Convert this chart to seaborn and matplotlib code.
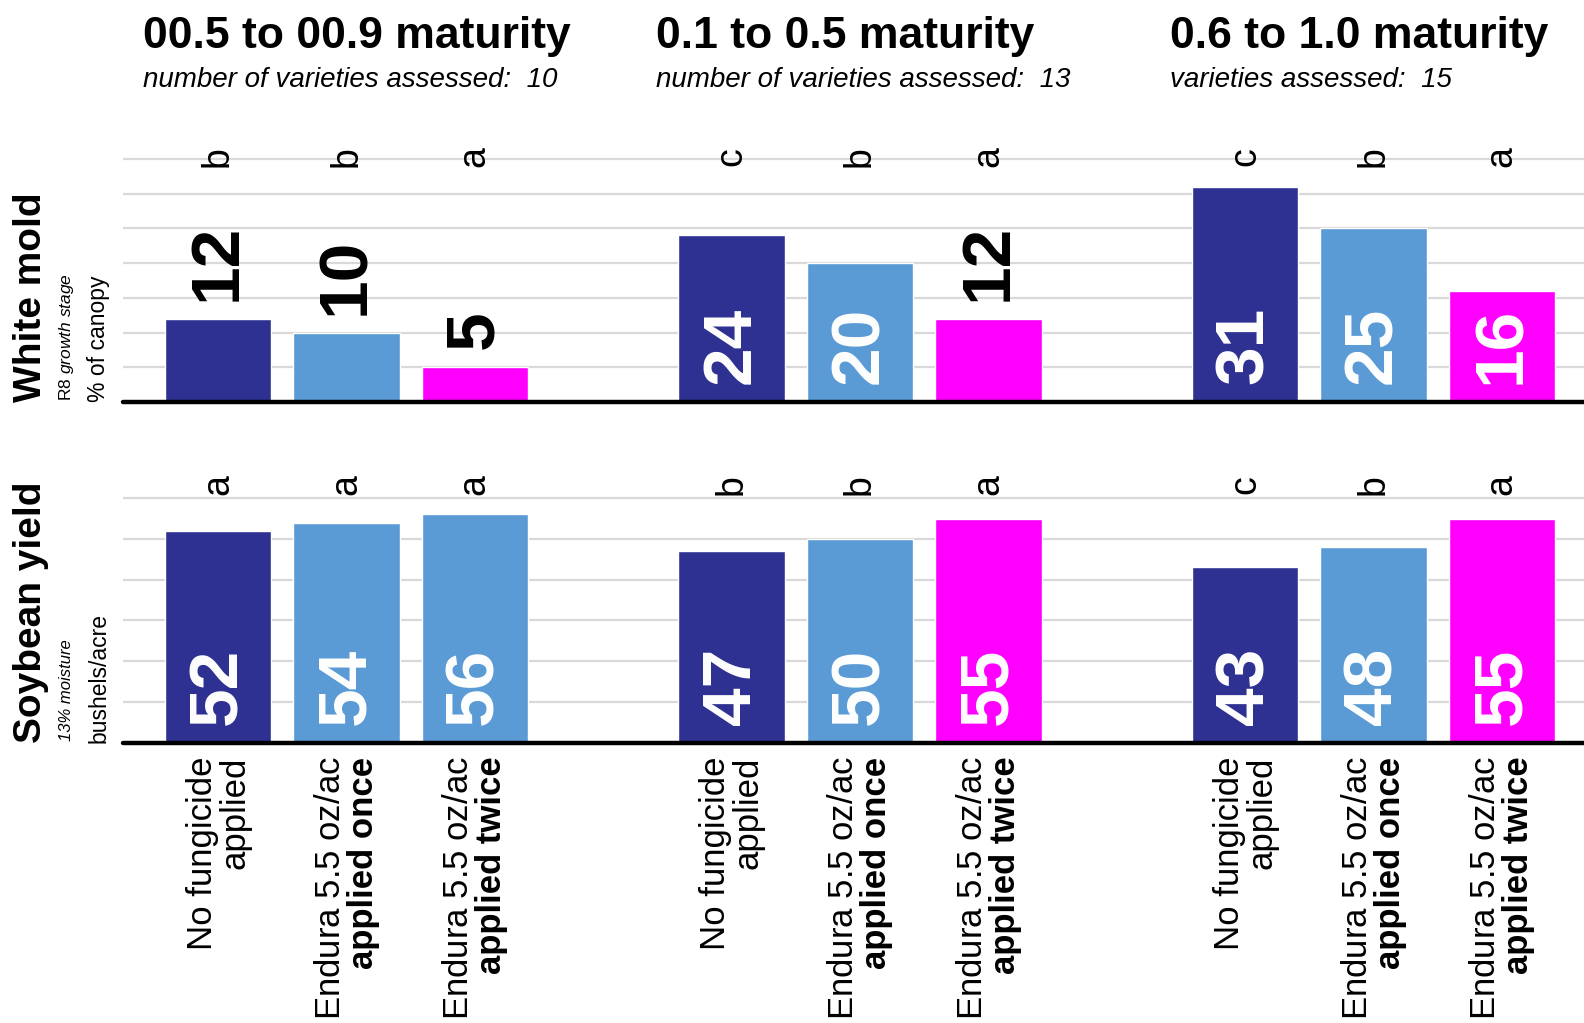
import pandas as pd
import matplotlib
matplotlib.use("Agg")
import matplotlib.pyplot as plt
import matplotlib.transforms as mtransforms
import seaborn as sns

# data
group_titles = ["00.5 to 00.9 maturity", "0.1 to 0.5 maturity", "0.6 to 1.0 maturity"]
group_subtitles = ["number of varieties assessed:  10",
                   "number of varieties assessed:  13",
                   "varieties assessed:  15"]
treat_line1 = ["No fungicide", r"Endura $\mathit{5.5}$ oz/ac", r"Endura $\mathit{5.5}$ oz/ac"]
treat_line2 = ["applied", "applied once", "applied twice"]
treat_bold2 = [False, True, True]

mold_values = [12, 10, 5, 24, 20, 12, 31, 25, 16]
mold_letters = ["b", "b", "a", "c", "b", "a", "c", "b", "a"]
mold_colors = ["navy", "blue", "pink", "navy", "blue", "pink", "navy", "blue", "pink"]

yield_values = [52, 54, 56, 47, 50, 55, 43, 48, 55]
yield_letters = ["a", "a", "a", "b", "b", "a", "c", "b", "a"]
yield_colors = ["navy", "blue", "blue", "navy", "blue", "pink", "navy", "blue", "pink"]

color_map = {"navy": "#2E3192", "blue": "#5B9BD5", "pink": "#FF00FF"}

# slots: 3 bars per group with one empty slot between groups
slots = ["0", "1", "2", "4", "5", "6", "8", "9", "10"]
order = [str(i) for i in range(11)]

sns.set_theme(style="white")
plt.rcParams["font.family"] = ["Liberation Sans", "DejaVu Sans"]
plt.rcParams["text.color"] = "black"
plt.rcParams["mathtext.fontset"] = "custom"
plt.rcParams["mathtext.rm"] = "Liberation Sans"
plt.rcParams["mathtext.it"] = "Liberation Sans:italic"
plt.rcParams["mathtext.bf"] = "Liberation Sans:bold"

fig = plt.figure(figsize=(15.84, 10.23), dpi=100)
ax_top = fig.add_axes([0.0777, 0.607, 0.9223, 0.258])
ax_bot = fig.add_axes([0.0777, 0.274, 0.9223, 0.255])

XLIM = (-0.74, 10.64)


def draw_row(ax, values, colors, letters, ymax, ticks, letter_y, inside_min):
    df = pd.DataFrame({"slot": slots, "value": values, "color": colors})
    pal = {s: color_map[c] for s, c in zip(slots, colors)}
    sns.barplot(data=df, x="slot", y="value", hue="slot", palette=pal,
                order=order, hue_order=slots, width=0.83, saturation=1,
                legend=False, ax=ax, zorder=2)
    ax.set_xlim(*XLIM)
    ax.set_ylim(0, ymax)
    ax.set_yticks(ticks)
    ax.yaxis.grid(True, color="#D9D9D9", lw=1.6, zorder=0)
    ax.set_axisbelow(True)
    ax.tick_params(left=False, bottom=False, labelleft=False, labelbottom=False)
    ax.set_xlabel("")
    ax.set_ylabel("")
    sns.despine(ax=ax, left=True, bottom=True, top=True, right=True)
    ax.axhline(0, color="black", lw=3.2, clip_on=False, zorder=3)

    for s, v, l in zip(slots, values, letters):
        x = order.index(s)
        if v >= inside_min:
            ax.annotate(str(v), (x, 0), xytext=(0, 13), textcoords="offset points",
                        rotation=90, ha="center", va="bottom", color="white",
                        fontsize=50, fontweight="bold", zorder=4)
        else:
            ax.annotate(str(v), (x, v), xytext=(0, 13), textcoords="offset points",
                        rotation=90, ha="center", va="bottom", color="black",
                        fontsize=50, fontweight="bold", zorder=4)
        ax.text(x, letter_y, l, rotation=90, ha="center", va="center",
                fontsize=27, color="black", zorder=4)


draw_row(ax_top, mold_values, mold_colors, mold_letters, 38, range(5, 36, 5), 35.3, 15)
draw_row(ax_bot, yield_values, yield_colors, yield_letters, 64, range(10, 61, 10), 63.3, 0)

# treatment labels below the lower row
xt = ax_bot.get_xaxis_transform()
for i, s in enumerate(slots):
    x = order.index(s)
    t = i % 3
    ax_bot.annotate(treat_line1[t], (x - 0.125, 0), xycoords=xt, xytext=(0, -10),
                    textcoords="offset points", rotation=90, ha="center", va="top",
                    fontsize=25)
    ax_bot.annotate(treat_line2[t], (x + 0.13, 0), xycoords=xt, xytext=(0, -10),
                    textcoords="offset points", rotation=90, ha="center", va="top",
                    fontsize=25, fontweight="bold" if treat_bold2[t] else "normal")

# group titles
bt = mtransforms.blended_transform_factory(ax_top.transData, fig.transFigure)
for g in range(3):
    x0 = order.index(slots[g * 3]) - 0.585
    ax_top.text(x0, 0.953, group_titles[g], transform=bt, ha="left", va="baseline",
                fontsize=32, fontweight="bold")
    ax_top.text(x0, 0.915, group_subtitles[g], transform=bt, ha="left", va="baseline",
                fontsize=20, fontstyle="italic")

# row labels on the left
fig.text(0.0195, 0.607, "White mold", rotation=90, ha="center", va="bottom",
         fontsize=28, fontweight="bold")
fig.text(0.042, 0.608, r"R8 $\mathit{growth\ stage}$", rotation=90, ha="center",
         va="bottom", fontsize=12.5)
fig.text(0.0625, 0.607, "% of canopy", rotation=90, ha="center", va="bottom",
         fontsize=16.5)

fig.text(0.0195, 0.274, "Soybean yield", rotation=90, ha="center", va="bottom",
         fontsize=28, fontweight="bold")
fig.text(0.042, 0.276, "13% moisture", rotation=90, ha="center", va="bottom",
         fontsize=12, fontstyle="italic")
fig.text(0.0625, 0.274, "bushels/acre", rotation=90, ha="center", va="bottom",
         fontsize=16.5)

fig.savefig("out.png", dpi=100)
